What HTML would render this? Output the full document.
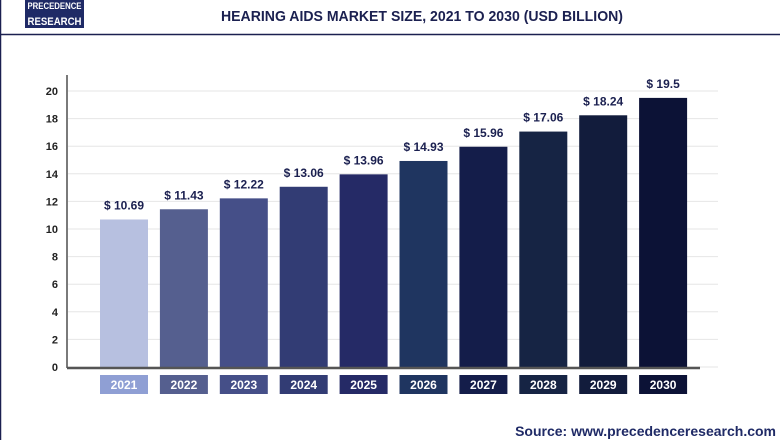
<!DOCTYPE html>
<html><head><meta charset="utf-8"><style>
body{margin:0;background:#fff;}
#wrap{position:relative;width:780px;height:440px;overflow:hidden;font-family:"Liberation Sans",sans-serif;}
</style></head><body>
<div id="wrap">
<svg id="chart" width="780" height="440">
<rect x="0.5" y="-2" width="782" height="444" fill="none" stroke="#1b2050" stroke-width="1.5"/>
<line x1="0" y1="34.5" x2="780" y2="34.5" stroke="#1b2050" stroke-width="1.5"/>
<rect x="25" y="0" width="59" height="28" fill="#1f2a66"/>
<text x="54.5" y="9" fill="#fff" font-size="9" font-weight="bold" text-anchor="middle" textLength="54" lengthAdjust="spacingAndGlyphs">PRECEDENCE</text>
<text x="54.5" y="25" fill="#fff" font-size="11" font-weight="bold" text-anchor="middle" textLength="54" lengthAdjust="spacingAndGlyphs">RESEARCH</text>
<text x="422" y="21" fill="#1b2050" font-size="15" font-weight="bold" text-anchor="middle" textLength="402" lengthAdjust="spacingAndGlyphs">HEARING AIDS MARKET SIZE, 2021 TO 2030 (USD BILLION)</text>
<g id="grid"></g><g id="bars"></g>
<line x1="67" y1="75" x2="67" y2="368" stroke="#222" stroke-width="1.2"/>
<line x1="67" y1="368" x2="700" y2="368" stroke="#555" stroke-width="2.5"/>
<text x="776" y="436" fill="#1f2a66" font-size="14" font-weight="bold" text-anchor="end">Source: www.precedenceresearch.com</text>
</svg></div>
<script>
const categories=["2021","2022","2023","2024","2025","2026","2027","2028","2029","2030"];
const values=[10.69,11.43,12.22,13.06,13.96,14.93,15.96,17.06,18.24,19.5];
const valueLabels=["$ 10.69","$ 11.43","$ 12.22","$ 13.06","$ 13.96","$ 14.93","$ 15.96","$ 17.06","$ 18.24","$ 19.5"];
const yTicks=[0,2,4,6,8,10,12,14,16,18,20];
const barColors=["#b7c0e0","#555f8f","#454f88","#323c74","#252a66","#1f3560","#141d4a","#162444","#121c3c","#0c1236"];
const labelColors=["#8f9fd4","#555f8f","#454f88","#323c74","#252a66","#1f3560","#141d4a","#162444","#121c3c","#0c1236"];
const NS="http://www.w3.org/2000/svg";
const y=v=>367-v*13.8;
const x=i=>124+i*59.9;
const grid=document.getElementById('grid'),bars=document.getElementById('bars');
function mk(tag,a,p){const e=document.createElementNS(NS,tag);for(const k in a)e.setAttribute(k,a[k]);p.appendChild(e);return e;}
yTicks.forEach(t=>{
 const l=mk('line',{x1:68,x2:718,y1:y(t),y2:y(t),stroke:'#e6e6e6','stroke-width':1},grid);
 
 
 const tx=mk('text',{x:58,y:y(t)+4,'font-size':11,'font-weight':'bold',fill:'#222','text-anchor':'end'},grid);
 tx.textContent=t;
 
 
});
categories.forEach((c,i)=>{
 const r=mk('rect',{x:x(i)-24,y:y(values[i]),width:48,height:367-y(values[i]),fill:barColors[i]},bars);
 
 
 const v=mk('text',{x:x(i),y:y(values[i])-10,'font-size':12,'font-weight':'bold',fill:'#1b2050','text-anchor':'middle'},bars);
 v.textContent=valueLabels[i];
 
 
 const b=mk('rect',{x:x(i)-24,y:375,width:48,height:19,fill:labelColors[i]},bars);
 
 
 const t=mk('text',{x:x(i),y:389,'font-size':12,'font-weight':'bold',fill:'#fff','text-anchor':'middle'},bars);
 t.textContent=c;
 
 
});
</script>
</body></html>
